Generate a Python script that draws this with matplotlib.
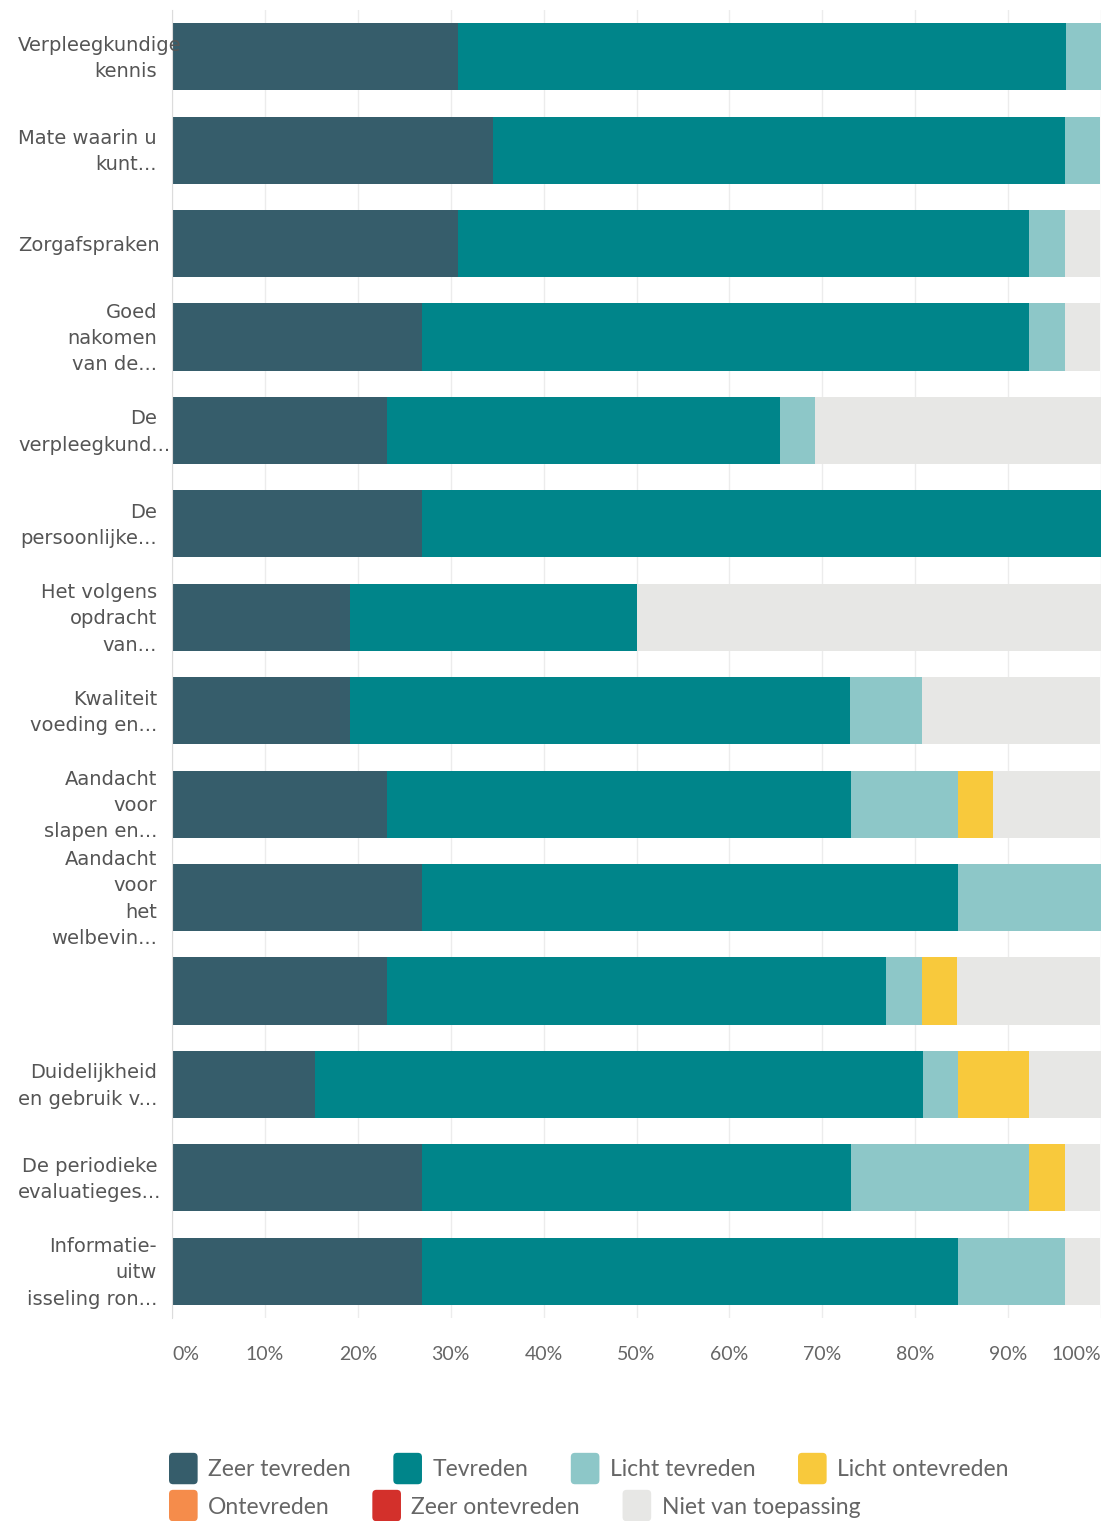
import matplotlib
matplotlib.use("Agg")
import matplotlib.pyplot as plt
from matplotlib.patches import Patch, FancyBboxPatch
from matplotlib.legend_handler import HandlerPatch
import numpy as np

plt.rcParams['font.family'] = ['Lato', 'DejaVu Sans']

questions = [
    "Verpleegkundige\nkennis",
    "Mate waarin u\nkunt...",
    "Zorgafspraken",
    "Goed\nnakomen\nvan de...",
    "De\nverpleegkund...",
    "De\npersoonlijke...",
    "Het volgens\nopdracht\nvan...",
    "Kwaliteit\nvoeding en...",
    "Aandacht\nvoor\nslapen en...",
    "Aandacht\nvoor\nhet\nwelbevin...",
    "",
    "Duidelijkheid\nen gebruik v...",
    "De periodieke\nevaluatieges...",
    "Informatie-\nuitw\nisseling ron...",
]

answers = ["Zeer tevreden", "Tevreden", "Licht tevreden", "Licht ontevreden",
           "Ontevreden", "Zeer ontevreden", "Niet van toepassing"]
colors = ["#365d6b", "#00858a", "#8dc7c8", "#f8c93c",
          "#f58c4b", "#d3302b", "#e7e7e5"]

# percentages per answer, one entry per question
zeer_tevreden    = [30.8, 34.6, 30.8, 26.9, 23.1, 26.9, 19.2, 19.2, 23.1, 26.9, 23.1, 15.4, 26.9, 26.9]
tevreden         = [65.4, 61.5, 61.5, 65.4, 42.3, 73.1, 30.8, 53.8, 50.0, 57.7, 53.8, 65.4, 46.2, 57.7]
licht_tevreden   = [3.8, 3.8, 3.8, 3.8, 3.8, 0, 0, 7.7, 11.5, 15.4, 3.8, 3.8, 19.2, 11.5]
licht_ontevreden = [0, 0, 0, 0, 0, 0, 0, 0, 3.8, 0, 3.8, 7.7, 3.8, 0]
ontevreden       = [0] * 14
zeer_ontevreden  = [0] * 14
niet_toepassing  = [0, 0, 3.8, 3.8, 30.8, 0, 50.0, 19.2, 11.5, 0, 15.4, 7.7, 3.8, 3.8]

series = [zeer_tevreden, tevreden, licht_tevreden, licht_ontevreden,
          ontevreden, zeer_ontevreden, niet_toepassing]

xticks = [0, 10, 20, 30, 40, 50, 60, 70, 80, 90, 100]

W, H = 1103, 1521
fig = plt.figure(figsize=(W / 100, H / 100), dpi=100)
ax = fig.add_axes([172 / W, 1 - 1318 / H, 929 / W, 1308 / H])

y = np.arange(len(questions))
left = np.zeros(len(questions))
for vals, name, c in zip(series, answers, colors):
    vals = np.array(vals, dtype=float)
    ax.barh(y, vals, left=left, height=0.72, color=c, label=name, zorder=2)
    left += vals

ax.set_ylim(len(questions) - 0.5, -0.5)
ax.set_xlim(0, 100)
ax.set_yticks(y)
ax.set_yticklabels([])
ax.tick_params(axis="y", length=0)

ax.set_xticks(xticks)
ax.set_xticklabels([f"{t}%" for t in xticks], fontsize=14, color="#666666")
ax.tick_params(axis="x", length=0, pad=20)
lbls = ax.get_xticklabels()
lbls[0].set_ha("left")
lbls[-1].set_ha("right")

ax.grid(axis="x", color="#ececec", lw=1, zorder=0)
for s in ["top", "right", "bottom"]:
    ax.spines[s].set_visible(False)
ax.spines["left"].set_color("#dcdcdc")

# question labels, one text per line (1 px = 0.72 pt at 100 dpi)
px = 0.72
line_h = 26.3
label_texts = []
for i, q in enumerate(questions):
    lines = q.split("\n")
    n = len(lines)
    for j, line in enumerate(lines):
        dy = ((n - 1) / 2 - j) * line_h - 1.5
        t = ax.annotate(line, xy=(0, i), xycoords=("axes fraction", "data"),
                        xytext=(-15 * px, dy * px), textcoords="offset points",
                        ha="right", va="center", fontsize=14,
                        family=["DejaVu Sans"], color="#555555")
        label_texts.append(t)

# lines too wide for the label column start at the left margin and run on
fig.canvas.draw()
renderer = fig.canvas.get_renderer()
for t in label_texts:
    bb = t.get_window_extent(renderer)
    if bb.x0 < 18:
        t.set_ha("left")
        t.set_position((-(172 - 18) * px, t.xyann[1]))


def rounded(legend, orig_handle, xdescent, ydescent, width, height, fontsize):
    return FancyBboxPatch((-xdescent, -ydescent - 5), width, height + 10,
                          boxstyle="round,pad=0,rounding_size=3")


handles = [Patch(facecolor=c, edgecolor="none") for c in colors]
hmap = {Patch: HandlerPatch(patch_func=rounded)}
common = dict(frameon=False, fontsize=16.5, handlelength=1.25, handleheight=0.8,
              handletextpad=0.45, columnspacing=1.86, borderpad=0, borderaxespad=0,
              handler_map=hmap, labelcolor="#666666", loc="center left")

leg1 = fig.legend(handles[:4], answers[:4], ncol=4,
                  bbox_to_anchor=(169 / W, 1 - 1470 / H), **common)
leg2 = fig.legend(handles[4:], answers[4:], ncol=3,
                  bbox_to_anchor=(169 / W, 1 - 1507 / H), **common)

fig.savefig("out.png", dpi=100, facecolor="white")
